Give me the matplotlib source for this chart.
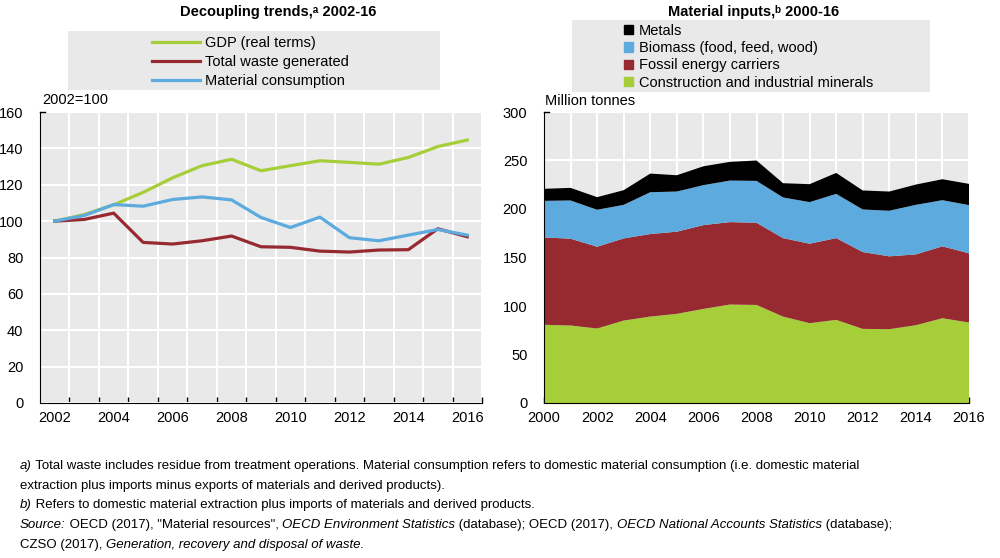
import numpy as np
import matplotlib
matplotlib.use("Agg")
import matplotlib.pyplot as plt
from matplotlib.patches import Rectangle, Patch
from matplotlib.lines import Line2D

plt.rcParams['font.family'] = ['Liberation Sans', 'DejaVu Sans']

###############
## Data

years_left = [2002, 2003, 2004, 2005, 2006, 2007, 2008, 2009, 2010, 2011, 2012, 2013, 2014, 2015, 2016]
gdp = [100, 103.6, 109, 115.8, 123.8, 130.5, 134, 127.7, 130.5, 133.2, 132.3, 131.3, 135, 141, 144.6]
waste = [100, 100.9, 104.4, 88.3, 87.4, 89.2, 91.8, 85.9, 85.6, 83.5, 83.0, 84.1, 84.3, 95.8, 91.4]
material = [100, 103.1, 109.1, 108.2, 111.9, 113.3, 111.7, 102.0, 96.5, 102.2, 90.9, 89.2, 92.3, 95.4, 92.3]

years_right = list(range(2000, 2017))
minerals = [80.6, 79.9, 76.8, 85.0, 89.1, 91.9, 97.0, 101.5, 101.1, 89.1, 82.3, 85.7, 76.4, 76.1, 80.2, 87.4, 83.0]
fossil = [90.1, 89.5, 84.3, 84.7, 85.1, 84.7, 86.4, 85.0, 84.7, 80.9, 81.9, 84.3, 79.2, 75.1, 73.0, 74.1, 71.3]
biomass = [37.7, 39.4, 38.1, 34.6, 43.1, 41.4, 41.2, 42.8, 43.2, 41.9, 42.9, 45.6, 43.9, 47.0, 51.1, 47.6, 49.7]
metals = [12.4, 13.0, 13.0, 15.1, 19.2, 16.8, 19.4, 19.3, 21.0, 14.7, 18.5, 21.6, 19.6, 19.8, 20.9, 21.6, 21.9]

left_labels = ["GDP (real terms)", "Total waste generated", "Material consumption"]
right_labels = ["Metals", "Biomass (food, feed, wood)", "Fossil energy carriers",
                "Construction and industrial minerals"]
##############

GREEN = '#A6CE39'
RED = '#962A30'
BLUE = '#5DAADF'
BG = '#E9E9E9'

fig = plt.figure(figsize=(10, 5.58), dpi=100)

W, H = 1000.0, 558.0
def fx(px):
    return px / W
def fy(py):
    return 1 - py / H

def style_axes(ax):
    ax.set_facecolor(BG)
    for s in ['top', 'right']:
        ax.spines[s].set_visible(False)
    ax.spines['left'].set_color('black')
    ax.spines['bottom'].set_color('black')
    ax.grid(True, color='white', linewidth=1.5)
    ax.set_axisbelow(True)
    ax.tick_params(axis='y', length=0, pad=12, labelsize=10.5)

# left panel
ax1 = fig.add_axes([fx(40), fy(403), fx(482) - fx(40), fy(112) - fy(403)])
style_axes(ax1)
xpos = np.arange(len(years_left))
ax1.plot(xpos, gdp, color=GREEN, lw=2.3, label=left_labels[0])
ax1.plot(xpos, waste, color=RED, lw=2.3, label=left_labels[1])
ax1.plot(xpos, material, color=BLUE, lw=2.3, label=left_labels[2])
ax1.set_xlim(-0.5, len(years_left) - 0.5)
ax1.set_ylim(0, 160)
ax1.set_yticks(np.arange(0, 161, 20))
ax1.set_xticks(np.arange(0.5, len(years_left), 1))
ax1.set_xticklabels([])
ax1.set_xticks(xpos[::2], minor=True)
ax1.set_xticklabels([str(y) for y in years_left[::2]], minor=True)
ax1.tick_params(axis='x', which='major', direction='in', length=4, width=1)
ax1.tick_params(axis='x', which='minor', length=0, pad=6, labelsize=10.5)
ax1.grid(False, which='minor')
ax1.plot([0, 0.012], [1, 1], transform=ax1.transAxes, color='black', lw=1, clip_on=False)

# right panel
ax2 = fig.add_axes([fx(544), fy(403), fx(969) - fx(544), fy(112) - fy(403)])
style_axes(ax2)
ax2.stackplot(years_right, minerals, fossil, biomass, metals,
              colors=[GREEN, RED, BLUE, 'black'], linewidth=0)
ax2.set_xlim(2000, 2016)
ax2.set_ylim(0, 300)
ax2.set_yticks(np.arange(0, 301, 50))
ax2.set_xticks(years_right)
ax2.set_xticklabels([str(y) if y % 2 == 0 else '' for y in years_right])
ax2.tick_params(axis='x', direction='in', length=4, width=1, pad=6, labelsize=10.5)
ax2.plot([0, 0.012], [1, 1], transform=ax2.transAxes, color='black', lw=1, clip_on=False)

# titles and unit labels
fig.text(fx(278), fy(12), "Decoupling trends,\u1d43 2002-16", ha='center', va='center',
         fontsize=10.5, fontweight='bold')
fig.text(fx(754), fy(12), "Material inputs,\u1d47 2000-16", ha='center', va='center',
         fontsize=10.5, fontweight='bold')
fig.text(fx(42), fy(100), "2002=100", ha='left', va='center', fontsize=10.5)
fig.text(fx(545), fy(101), "Million tonnes", ha='left', va='center', fontsize=10.5)

# legend backgrounds
fig.patches.append(Rectangle((fx(68), fy(90)), fx(440) - fx(68), fy(31) - fy(90),
                             transform=fig.transFigure, facecolor=BG, edgecolor='none'))
fig.patches.append(Rectangle((fx(572), fy(92)), fx(930) - fx(572), fy(20) - fy(92),
                             transform=fig.transFigure, facecolor=BG, edgecolor='none'))

h1 = [Line2D([], [], color=c, lw=2.3) for c in [GREEN, RED, BLUE]]
fig.legend(h1, left_labels, loc='upper left', bbox_to_anchor=(fx(152), fy(36)),
           frameon=False, fontsize=10.5, handlelength=3.3, handletextpad=0.35,
           labelspacing=0.35, borderpad=0, borderaxespad=0)
h2 = [Patch(color=c) for c in ['black', BLUE, RED, GREEN]]
fig.legend(h2, right_labels, loc='upper left', bbox_to_anchor=(fx(624), fy(24)),
           frameon=False, fontsize=10.5, handlelength=0.6, handleheight=0.6,
           handletextpad=0.4, labelspacing=0.22, borderpad=0, borderaxespad=0)

# footnotes with mixed italic runs
renderer = fig.canvas.get_renderer()
NOTE = ['Liberation Sans Narrow', 'Liberation Sans', 'DejaVu Sans']

def rich_line(x, y, parts):
    for txt, st in parts:
        t = fig.text(x, y, txt, style=st, fontsize=9.5, family=NOTE, va='center', ha='left')
        x += t.get_window_extent(renderer).width / fig.bbox.width

notes = [
    [("a)", 'italic'), (" Total waste includes residue from treatment operations. Material consumption refers to domestic material consumption (i.e. domestic material", 'normal')],
    [("extraction plus imports minus exports of materials and derived products).", 'normal')],
    [("b)", 'italic'), (" Refers to domestic material extraction plus imports of materials and derived products.", 'normal')],
    [("Source:", 'italic'), (" OECD (2017), \"Material resources\", ", 'normal'), ("OECD Environment Statistics", 'italic'),
     (" (database); OECD (2017), ", 'normal'), ("OECD National Accounts Statistics", 'italic'), (" (database);", 'normal')],
    [("CZSO (2017), ", 'normal'), ("Generation, recovery and disposal of waste.", 'italic')],
]
for i, parts in enumerate(notes):
    rich_line(fx(20), fy(466 + 19.7 * i), parts)

fig.savefig("out.png", dpi=100)
